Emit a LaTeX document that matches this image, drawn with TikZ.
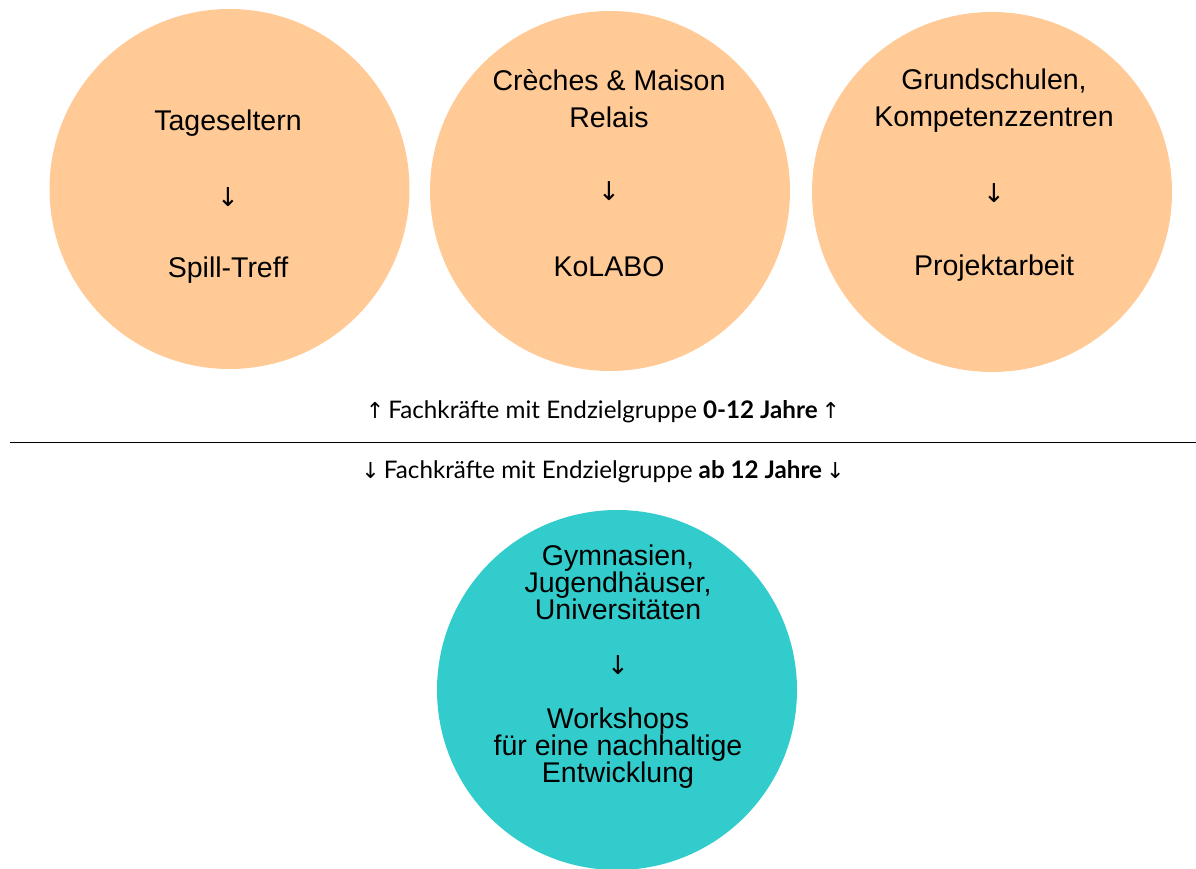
\documentclass[tikz,border=0pt]{standalone}
\usepackage{fontspec}
\setmainfont{Liberation Sans}
\newfontfamily\latofont{Lato}
\newfontfamily\darrfont{DejaVu Sans}
\definecolor{peach}{HTML}{FFCA96}
\definecolor{teal2}{HTML}{33CCCC}
\begin{document}
\begin{tikzpicture}[x=1pt,y=1pt,
  bubble/.style={circle,minimum size=360pt,inner sep=0pt},
  ctext/.style={font=\fontsize{28.5}{37}\selectfont,align=center,inner sep=0pt,anchor=center},
  btext/.style={font=\fontsize{28.5}{27}\selectfont,align=center,inner sep=0pt,anchor=center},
  arr/.style={font=\darrfont\fontsize{26}{30}\selectfont,inner sep=0pt,anchor=center},
  mid/.style={font=\latofont\fontsize{24.2}{28}\selectfont,inner sep=0pt,anchor=center}]
\useasboundingbox (0,0) rectangle (1196,868);
\clip (0,0) rectangle (1196,868);
\node[bubble,fill=peach] (c1) at (229.5,679) {};
\node[bubble,fill=peach] (c2) at (610,677) {};
\node[bubble,fill=peach] (c3) at (992,676) {};
\node[bubble,fill=teal2] (c4) at (617,178) {};
% circle 1
\node[ctext] (t1a) at (228,745) {Tageseltern};
\node[arr] (t1b) at (228,671) {↓};
\node[ctext] (t1c) at (228,598) {Spill-Treff};
% circle 2
\node[ctext] (t2a) at (609,769) {Crèches \& Maison\\Relais};
\node[arr] (t2b) at (609,677) {↓};
\node[ctext] (t2c) at (609,601) {KoLABO};
% circle 3
\node[ctext] (t3a) at (994,767.5) {Grundschulen,\\Kompetenzzentren};
\node[arr] (t3b) at (994,675) {↓};
\node[ctext] (t3c) at (994,600) {Projektarbeit};
% circle 4
\node[btext] (t4a) at (618,286) {Gymnasien,\\Jugendhäuser,\\Universitäten};
\node[arr] (t4b) at (618,203) {↓};
\node[btext] (t4c) at (618,120) {Workshops\\für eine nachhaltige\\Entwicklung};
% middle
\node[mid] (m1) at (603,456) {{\darrfont\fontsize{22}{26}\selectfont↑}\,Fachkräfte mit Endzielgruppe \textbf{0-12 Jahre}\,{\darrfont\fontsize{22}{26}\selectfont↑}};
\coordinate (l1) at (10,425);
\coordinate (l2) at (1196,425);
\draw[line width=1pt] (l1) -- (l2);
\node[mid] (m2) at (603,396) {{\darrfont\fontsize{22}{26}\selectfont↓}\,Fachkräfte mit Endzielgruppe \textbf{ab 12 Jahre}\,{\darrfont\fontsize{22}{26}\selectfont↓}};
\end{tikzpicture}
\end{document}
